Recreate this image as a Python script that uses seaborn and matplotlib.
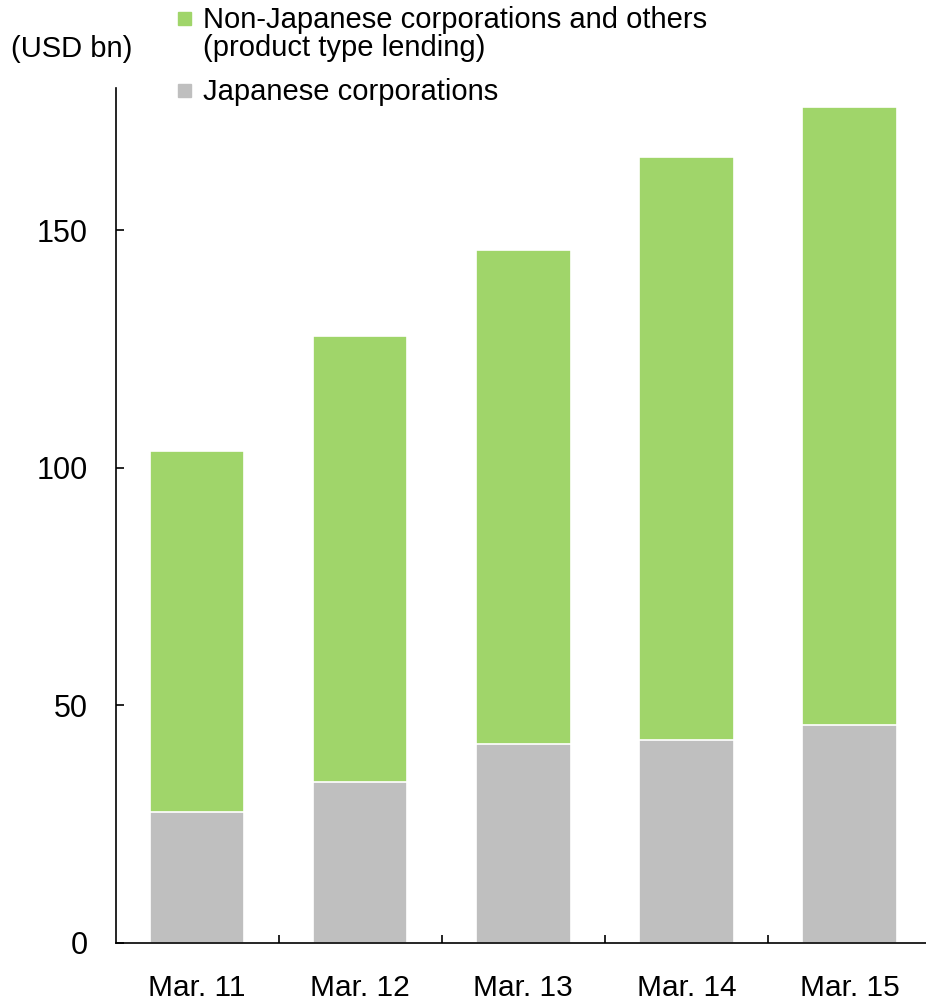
import matplotlib
matplotlib.use("Agg")
import matplotlib.pyplot as plt
from matplotlib.patches import Rectangle
import numpy as np
import pandas as pd
import seaborn as sns

# Outstanding balances by fiscal year-end (USD bn)
periods = ["Mar. 11", "Mar. 12", "Mar. 13", "Mar. 14", "Mar. 15"]
japanese = [27.5, 33.9, 41.8, 42.7, 45.9]
non_japanese = [76.1, 93.9, 104.0, 122.8, 130.2]
y_ticks = [0, 50, 100, 150]

label_non_jp = ["Non-Japanese corporations and others", "(product type lending)"]
label_jp = "Japanese corporations"
unit_label = "(USD bn)"

GREEN = "#A0D56A"
GRAY = "#BFBFBF"

sns.set_theme(style="white")
plt.rcParams["font.family"] = ["Liberation Sans", "DejaVu Sans"]

df = pd.DataFrame({
    "period": periods,
    "japanese": japanese,
    "total": np.array(japanese) + np.array(non_japanese),
})

W, H = 926, 1001
fig = plt.figure(figsize=(W / 100, H / 100), dpi=100)
ax = fig.add_axes([115.5 / W, 1 - 942.5 / H, (931 - 115.5) / W, (942.5 - 88) / H])

# Stack: full height in green, Japanese share drawn over it in gray
sns.barplot(data=df, x="period", y="total", color=GREEN, saturation=1,
            width=0.58, edgecolor="white", linewidth=1.2, ax=ax)
sns.barplot(data=df, x="period", y="japanese", color=GRAY, saturation=1,
            width=0.58, edgecolor="white", linewidth=1.2, ax=ax)

ax.set_xlim(-0.5, 4.5)
ax.set_ylim(0, 180)
ax.set_xlabel("")
ax.set_ylabel("")

for s in ["top", "right"]:
    ax.spines[s].set_visible(False)
for s in ["left", "bottom"]:
    ax.spines[s].set_color("black")
    ax.spines[s].set_linewidth(1.2)

ax.set_yticks(y_ticks)
ax.tick_params(axis="y", direction="in", length=6, width=1.2, color="black",
               labelsize=22, pad=20, labelcolor="black", left=True)
ax.set_xticks(range(len(periods)))
ax.set_xticklabels(periods)
ax.tick_params(axis="x", which="major", length=0, labelsize=21.5, pad=23,
               labelcolor="black")
ax.set_xticks(np.arange(0.5, len(periods) - 0.5, 1), minor=True)
ax.tick_params(axis="x", which="minor", direction="in", length=6, width=1.2,
               color="black", bottom=True)

# Unit label and legend
fs = 21
fig.text(11 / W, 1 - 49 / H, unit_label, fontsize=fs, va="center", ha="left",
         color="black")

sq = 13
fig.patches.append(Rectangle((178 / W, 1 - 25 / H), sq / W, sq / H,
                             transform=fig.transFigure, color=GREEN))
fig.patches.append(Rectangle((178 / W, 1 - 97 / H), sq / W, sq / H,
                             transform=fig.transFigure, color=GRAY))
fig.text(203 / W, 1 - 28 / H, label_non_jp[0], fontsize=fs, va="baseline",
         ha="left", color="black")
fig.text(203 / W, 1 - 56 / H, label_non_jp[1], fontsize=fs, va="baseline",
         ha="left", color="black")
fig.text(203 / W, 1 - 100 / H, label_jp, fontsize=fs, va="baseline",
         ha="left", color="black")

fig.savefig("out.png", dpi=100)
